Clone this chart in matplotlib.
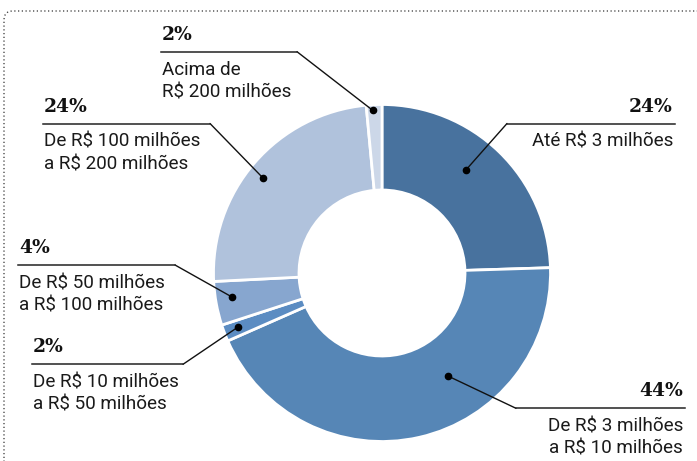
import numpy as np
import matplotlib.pyplot as plt
from matplotlib.patches import FancyBboxPatch

# share of companies by revenue bracket (clockwise from the top)
shares = [24.5, 43.9, 1.6, 4.2, 24.3, 1.5]
pct_labels = ["24%", "44%", "2%", "4%", "24%", "2%"]
desc_labels = [
    ["Até R$ 3 milhões"],
    ["De R$ 3 milhões", "a R$ 10 milhões"],
    ["De R$ 10 milhões", "a R$ 50 milhões"],
    ["De R$ 50 milhões", "a R$ 100 milhões"],
    ["De R$ 100 milhões", "a R$ 200 milhões"],
    ["Acima de", "R$ 200 milhões"],
]
colors = ["#48729e", "#5686b6", "#5b8cc2", "#87a6cf", "#b0c2dc", "#ccd7e8"]

W, H = 697, 461
fig = plt.figure(figsize=(W / 100, H / 100), dpi=100)
ax = fig.add_axes([0, 0, 1, 1])

cx, cy = 382, H - 273
R, ring = 168.5, 85.5

wedges, _ = ax.pie(shares, colors=colors, startangle=90, counterclock=False,
                   radius=R, center=(cx, cy),
                   wedgeprops=dict(width=ring, edgecolor="white", linewidth=2))

ax.set_xlim(0, W)
ax.set_ylim(0, H)
ax.set_aspect("equal")
ax.axis("off")

# where the marker dot sits inside each wedge (fraction of span, radius)
dot_frac = [0.444, 0.375, 0.55, 0.59, 0.474, 0.39]
dot_rad = [133, 122, 154, 152, 152, 163]
# label rule: x_left, x_right, y (pixels from top), side
rules = [
    (507, 675, 123.5, "right"),
    (516, 685, 408.3, "right"),
    (32, 183, 364.3, "left"),
    (18, 175, 265, "left"),
    (43, 210, 123.5, "left"),
    (161, 297, 51.7, "left"),
]

total = sum(shares)
start = 90.0
for i, w in enumerate(wedges):
    span = 360.0 * shares[i] / total
    ang = np.radians(start - dot_frac[i] * span)
    start -= span
    dx = cx + dot_rad[i] * np.cos(ang)
    dy = cy + dot_rad[i] * np.sin(ang)

    x0, x1, yr, side = rules[i]
    yr = H - yr
    joint = x0 if side == "right" else x1
    ax.plot([dx, joint], [dy, yr], color="#111111", lw=1.0, solid_capstyle="round")
    ax.plot([x0, x1], [yr, yr], color="#222222", lw=1.1)
    ax.plot(dx, dy, "o", ms=4.5, color="black")

    if side == "right":
        tx, ha = x1 - 2, "right"
    else:
        tx, ha = x0 + 1, "left"
    ax.text(tx, yr + 12, pct_labels[i], ha=ha, va="baseline",
            family="DejaVu Serif", weight="bold", fontsize=13.5, color="#111111")
    for k, line in enumerate(desc_labels[i]):
        ax.text(tx, yr - 23.3 - 22.3 * k, line, ha=ha, va="baseline",
                family="Roboto", fontsize=13.6, color="#1a1a1a")

# dotted frame with rounded top-left corner
frame = FancyBboxPatch((4, -60), 800, H - 11 + 60,
                       boxstyle="round,pad=0,rounding_size=9",
                       fill=False, ec="#333333", lw=0.9, ls=(0, (1, 2)))
ax.add_patch(frame)

fig.savefig("out.png", dpi=100)
